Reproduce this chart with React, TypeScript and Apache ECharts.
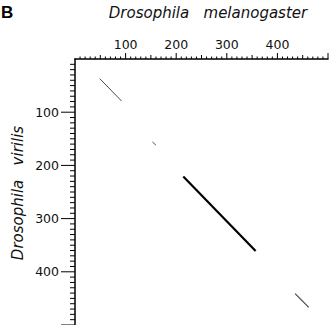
import React, { useEffect, useRef } from "react";
import * as echarts from "echarts";

// Dot-plot alignment segments (Drosophila melanogaster position vs D. virilis position)
const segStartX = [49, 153, 214, 435];
const segStartY = [37, 156, 221, 441];
const segEndX = [92, 160, 357, 462];
const segEndY = [79, 162, 361, 467];

// axis ticks
const axisMax = 500;
const majorStep = 100;
const midStep = 50;
const minorStep = 10;
const tickValues = Array.from({ length: axisMax / minorStep + 1 }, (_, i) => i * minorStep);

const segColors = ["#4a4a4a", "#555555", "#000000", "#444444"];
const segWidths = [1, 1, 2.2, 1.2];

const FONT = "DejaVu Sans";

export default function App() {
  const ref = useRef<HTMLDivElement>(null);
  useEffect(() => {
    if (!ref.current) return;
    const chart = echarts.init(ref.current, undefined, { renderer: "svg" });
    const labelFmt = (v: number) =>
      v % majorStep === 0 && v > 0 && v < axisMax ? String(v) : "";
    const segSeries = segStartX.map((x, i) => ({
      type: "line",
      symbol: "none",
      silent: true,
      data: [
        [x, segStartY[i]],
        [segEndX[i], segEndY[i]],
      ],
      lineStyle: { color: segColors[i], width: segWidths[i] },
    }));
    const tickSeries = (isY: boolean) => ({
      type: "custom",
      silent: true,
      clip: false,
      data: tickValues.filter((v) => v > 0).map((v) => (isY ? [0, v] : [v, 0])),
      renderItem: (_p: any, api: any) => {
        const xv = api.value(0);
        const yv = api.value(1);
        const v = isY ? yv : xv;
        const pt = api.coord([xv, yv]);
        let len: number;
        if (isY) len = v % majorStep === 0 ? 14 : 5;
        else len = v % majorStep === 0 ? 6 : v % midStep === 0 ? 4 : 2.5;
        return {
          type: "line",
          shape: isY
            ? { x1: pt[0], y1: pt[1], x2: pt[0] - len, y2: pt[1] }
            : { x1: pt[0], y1: pt[1], x2: pt[0], y2: pt[1] - len },
          style: { stroke: "#000", lineWidth: 1 },
        };
      },
    });
    const axisBase = (isY: boolean) => ({
      type: "value",
      position: isY ? "left" : "top",
      inverse: isY,
      min: 0,
      max: axisMax,
      interval: majorStep,
      axisLine: { show: true, lineStyle: { color: "#000", width: 1.5 } },
      axisTick: { show: false },
      axisLabel: {
        formatter: labelFmt,
        margin: isY ? 16 : 8,
        fontSize: 12.5,
        color: "#111",
        fontFamily: FONT,
      },
      splitLine: { show: false },
    });
    chart.setOption({
      animation: false,
      backgroundColor: "#ffffff",
      grid: { left: 75, top: 59, right: -9, bottom: -4, containLabel: false },
      xAxis: axisBase(false),
      yAxis: axisBase(true),
      graphic: [
        {
          type: "text",
          left: 1,
          top: 4,
          style: { text: "B", font: "bold 17px 'Liberation Sans'", fill: "#000" },
        },
        {
          type: "text",
          x: 208,
          y: 13,
          style: {
            text: "Drosophila   melanogaster",
            font: `italic 15px '${FONT}'`,
            fill: "#111",
            align: "center",
            verticalAlign: "middle",
          },
        },
        {
          type: "text",
          x: 18,
          y: 193,
          rotation: Math.PI / 2,
          style: {
            text: "Drosophila   virilis",
            font: `italic 15px '${FONT}'`,
            fill: "#111",
            align: "center",
            verticalAlign: "middle",
          },
        },
      ],
      series: [...segSeries, tickSeries(false), tickSeries(true)],
    });
    return () => chart.dispose();
  }, []);
  return (
    <div
      ref={ref}
      style={{ position: "fixed", left: 0, top: 0, width: 331, height: 325, background: "#fff" }}
    />
  );
}
